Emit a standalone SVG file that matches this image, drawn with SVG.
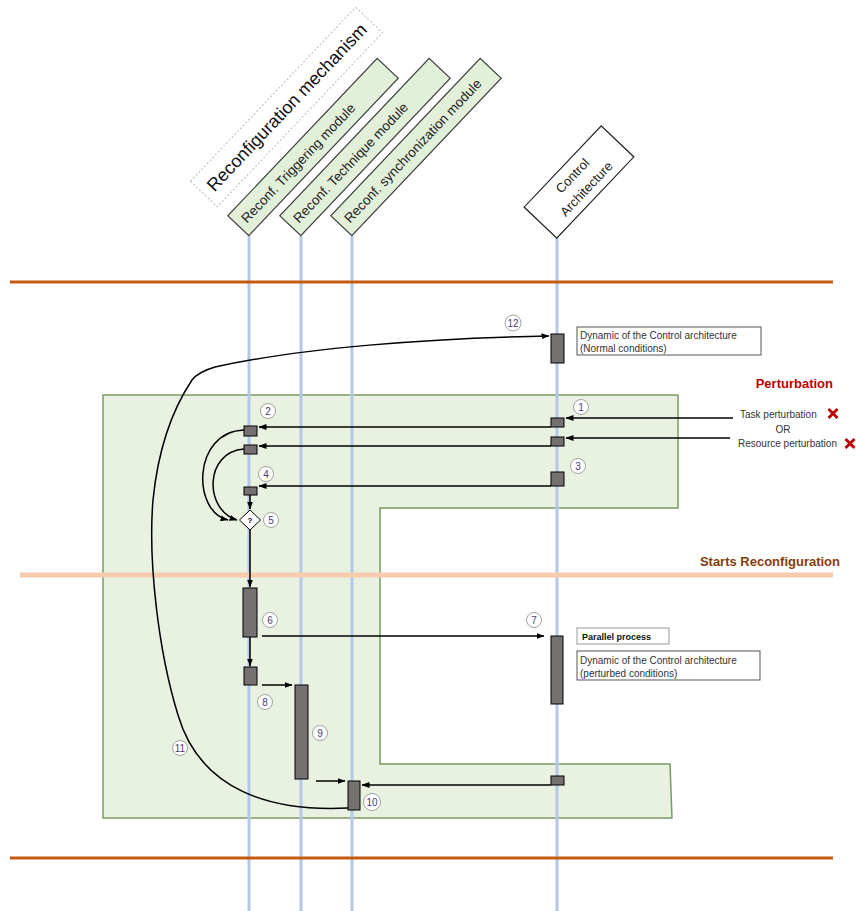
<svg xmlns="http://www.w3.org/2000/svg" width="856" height="911" viewBox="0 0 856 911">
<defs>
<marker id="ah" markerWidth="8" markerHeight="6" refX="7.5" refY="3" orient="auto" markerUnits="userSpaceOnUse">
<path d="M0,0 L8,3 L0,6 Z" fill="#000"/>
</marker>
<style>
.life{stroke:#b4c7e7;stroke-width:3;fill:none}
.bar{fill:#767171;stroke:#000;stroke-width:1}
.mod{fill:#e2efd9;stroke:#404040;stroke-width:1.2}
.modt{font-family:"Liberation Sans",Arial,sans-serif;font-size:13.5px;fill:#222}
.conn{stroke:#000;stroke-width:1.5;fill:none;marker-end:url(#ah)}
.num circle{fill:#fff;stroke:#8c8c8c;stroke-width:0.8}
.num text{font-family:"Liberation Sans",Arial,sans-serif;font-size:10px;fill:#4b3d7a;text-anchor:middle}
.lbl{font-family:"Liberation Sans",Arial,sans-serif;font-size:10px;fill:#333}
.box{fill:#fff;stroke:#555;stroke-width:1}
</style>
</defs>
<rect width="856" height="911" fill="#fff"/>

<g id="region">
<path d="M103,395 L678,395 L678,508 L380,508 L380,764 L670,764 L672,818 L103,818 Z" fill="#e9f1e1" stroke="#7a9a63" stroke-width="1.5"/>
</g>

<g id="lifelines">
<line class="life" x1="249" y1="236" x2="249" y2="911"/>
<line class="life" x1="301" y1="236" x2="301" y2="911"/>
<line class="life" x1="352" y1="236" x2="352" y2="911"/>
<line class="life" x1="557" y1="238" x2="557" y2="911"/>
</g>

<g id="phases">
<line x1="10" y1="282" x2="833" y2="282" stroke="#c55a11" stroke-width="3"/>
<line x1="10" y1="858" x2="833" y2="858" stroke="#c55a11" stroke-width="3"/>
<line x1="20" y1="575" x2="833" y2="575" stroke="#f8cbad" stroke-width="5"/>
<text x="833" y="388" font-family="Liberation Sans,Arial,sans-serif" font-size="13" font-weight="bold" fill="#c00000" text-anchor="end">Perturbation</text>
<text x="840" y="566" font-family="Liberation Sans,Arial,sans-serif" font-size="13" font-weight="bold" fill="#843c0c" text-anchor="end">Starts Reconfiguration</text>
</g>

<g id="header-mechanism" transform="translate(286.5,107) rotate(-46.5)">
<rect x="-120" y="-18.5" width="240" height="37" fill="#fff" stroke="#bbb" stroke-width="1" stroke-dasharray="2,2"/>
<text x="0" y="6.5" font-family="Liberation Sans,Arial,sans-serif" font-size="18" fill="#111" text-anchor="middle">Reconfiguration mechanism</text>
</g>
<g id="header-triggering" transform="translate(313,147) rotate(-46.5)">
<rect class="mod" x="-108.5" y="-14.5" width="217" height="29"/>
<text class="modt" x="-101" y="5">Reconf. Triggering module</text>
</g>
<g id="header-technique" transform="translate(365,147) rotate(-46.5)">
<rect class="mod" x="-108.5" y="-14.5" width="217" height="29"/>
<text class="modt" x="-101" y="5">Reconf. Technique module</text>
</g>
<g id="header-sync" transform="translate(416,147) rotate(-46.5)">
<rect class="mod" x="-108.5" y="-14.5" width="217" height="29"/>
<text class="modt" x="-101" y="5">Reconf. synchronization module</text>
</g>
<g id="header-control" transform="translate(579,182) rotate(-46.5)">
<rect x="-56" y="-22.5" width="112" height="45" fill="#fff" stroke="#222" stroke-width="1.2"/>
<text x="0" y="-4.5" font-family="Liberation Sans,Arial,sans-serif" font-size="13" fill="#222" text-anchor="middle">Control</text>
<text x="0" y="14.5" font-family="Liberation Sans,Arial,sans-serif" font-size="13" fill="#222" text-anchor="middle">Architecture</text>
</g>

<g id="connectors">
<line class="conn" x1="733" y1="418" x2="566" y2="418"/>
<line class="conn" x1="730" y1="438" x2="566" y2="438"/>
<line class="conn" x1="551" y1="427" x2="259" y2="427"/>
<line class="conn" x1="551" y1="446" x2="259" y2="446"/>
<line class="conn" x1="551" y1="486" x2="259" y2="486"/>
<path class="conn" d="M244,430 C192,432 192,512 228,520"/>
<path class="conn" d="M244,449 C204,452 204,510 237,520"/>
<line class="conn" x1="250" y1="495" x2="250" y2="509"/>
<line class="conn" x1="250" y1="530" x2="250" y2="587"/>
<line class="conn" x1="250" y1="637" x2="250" y2="666"/>
<line class="conn" x1="262" y1="636" x2="544" y2="636"/>
<line class="conn" x1="262" y1="685" x2="292" y2="685"/>
<line class="conn" x1="316" y1="781" x2="345" y2="781"/>
<line class="conn" x1="551" y1="785" x2="362" y2="785"/>
<path class="conn" d="M348,808 C270,812 200,790 178,715 C158,650 148,560 153,500 C158,450 172,410 192,380 Q198,372 215,367 C300,348 430,338 549,336"/>
</g>

<g id="bar-control-normal"><rect class="bar" x="551" y="334" width="13" height="29"/></g>
<g id="bar-control-1"><rect class="bar" x="551" y="418" width="13" height="9"/></g>
<g id="bar-control-2"><rect class="bar" x="551" y="437" width="13" height="9"/></g>
<g id="bar-control-3"><rect class="bar" x="551" y="472" width="13" height="14"/></g>
<g id="bar-control-7"><rect class="bar" x="551" y="636" width="12" height="68"/></g>
<g id="bar-control-low"><rect class="bar" x="551" y="776" width="13" height="9"/></g>
<g id="bar-trig-a"><rect class="bar" x="244" y="426" width="13" height="10"/></g>
<g id="bar-trig-b"><rect class="bar" x="244" y="445" width="13" height="9"/></g>
<g id="bar-trig-c"><rect class="bar" x="244" y="487" width="13" height="8"/></g>
<g id="decision">
<polygon points="250,510 260.5,520 250,530 239.5,520" fill="#fff" stroke="#000" stroke-width="1"/>
<text x="250" y="523" font-family="Liberation Sans,Arial,sans-serif" font-size="8" font-weight="bold" text-anchor="middle">?</text>
</g>
<g id="bar-trig-6"><rect class="bar" x="243" y="588" width="14" height="49"/></g>
<g id="bar-trig-8"><rect class="bar" x="244" y="667" width="13" height="18"/></g>
<g id="bar-tech-9"><rect class="bar" x="295" y="685" width="13" height="94"/></g>
<g id="bar-sync-10"><rect class="bar" x="348" y="781" width="12" height="29"/></g>

<g id="note-normal">
<rect class="box" x="577" y="327" width="184" height="28"/>
<text class="lbl" x="580" y="339">Dynamic of the Control architecture</text>
<text class="lbl" x="580" y="352">(Normal conditions)</text>
</g>
<g id="note-parallel">
<rect x="577" y="628" width="92" height="16" fill="#fff" stroke="#999" stroke-width="1"/>
<text x="582" y="640" font-family="Liberation Sans,Arial,sans-serif" font-size="9" font-weight="bold" fill="#111">Parallel process</text>
</g>
<g id="note-perturbed">
<rect class="box" x="577" y="651" width="183" height="29"/>
<text class="lbl" x="580" y="664">Dynamic of the Control architecture</text>
<text class="lbl" x="580" y="677">(perturbed conditions)</text>
</g>

<g id="perturbations">
<text class="lbl" x="740" y="418">Task perturbation</text>
<text class="lbl" x="783" y="433" text-anchor="middle">OR</text>
<text class="lbl" x="738" y="447">Resource perturbation</text>
<path d="M828.5,409 L837.5,418 M837.5,409 L828.5,418" stroke="#c00000" stroke-width="2.8"/>
<path d="M845.5,439 L854.5,448 M854.5,439 L845.5,448" stroke="#c00000" stroke-width="2.8"/>
</g>

<g id="numbers" class="num">
<g><circle cx="581" cy="407" r="7.5"/><text x="581" y="410.5">1</text></g>
<g><circle cx="268" cy="411" r="7.5"/><text x="268" y="414.5">2</text></g>
<g><circle cx="578" cy="466" r="7.5"/><text x="578" y="469.5">3</text></g>
<g><circle cx="266" cy="474" r="7.5"/><text x="266" y="477.5">4</text></g>
<g><circle cx="271" cy="520" r="7.5"/><text x="271" y="523.5">5</text></g>
<g><circle cx="270" cy="620" r="7.5"/><text x="270" y="623.5">6</text></g>
<g><circle cx="534" cy="620" r="7.5"/><text x="534" y="623.5">7</text></g>
<g><circle cx="265" cy="702" r="7.5"/><text x="265" y="705.5">8</text></g>
<g><circle cx="320" cy="733" r="7.5"/><text x="320" y="736.5">9</text></g>
<g><circle cx="372" cy="802" r="8.5"/><text x="372" y="805.5">10</text></g>
<g><circle cx="180" cy="748" r="7.5"/><text x="180" y="751.5">11</text></g>
<g><circle cx="513" cy="323" r="8"/><text x="513" y="326.5">12</text></g>
</g>
</svg>
